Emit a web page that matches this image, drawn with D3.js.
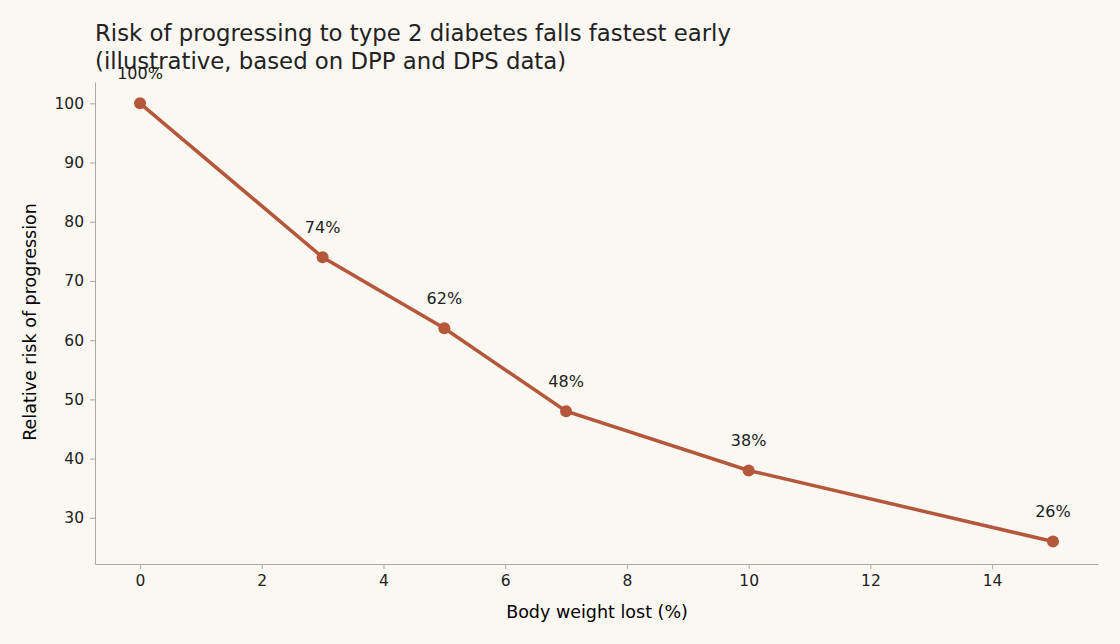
<!DOCTYPE html>
<html><head><meta charset="utf-8">
<script src="https://cdn.jsdelivr.net/npm/d3@7"></script>
<style>body{margin:0;background:#fbf7f2;font-family:"DejaVu Sans",sans-serif}</style>
</head><body>
<svg id="c" width="1120" height="644"></svg>
<script>
const weightLost = [0, 3, 5, 7, 10, 15];
const relativeRisk = [100, 74, 62, 48, 38, 26];
const xTicks = [0, 2, 4, 6, 8, 10, 12, 14];
const yTicks = [30, 40, 50, 60, 70, 80, 90, 100];
const svg = d3.select("#c");
svg.append("rect").attr("width",1120).attr("height",644).attr("fill","#fbf7f2");
const x = d3.scaleLinear().domain([-0.74, 15.74]).range([95, 1098]);
const y = d3.scaleLinear().domain([22.2, 103.6]).range([564, 82]);
const col = "#222";
const gx = svg.append("g").attr("transform","translate(0,564)").call(d3.axisBottom(x).tickValues(xTicks).tickSize(5).tickSizeOuter(0).tickPadding(6));
const gy = svg.append("g").attr("transform","translate(95,0)").call(d3.axisLeft(y).tickValues(yTicks).tickSize(5).tickSizeOuter(0).tickPadding(6));
[gx,gy].forEach(g=>{g.selectAll("path,line").attr("stroke","#aaa");g.selectAll("text").attr("fill",col).style("font-size","15.5px").style("font-family","DejaVu Sans");});
const data = weightLost.map((w,i)=>({w,r:relativeRisk[i]}));
svg.append("path").datum(data).attr("fill","none").attr("stroke","#b5573a").attr("stroke-width",3.5)
  .attr("d", d3.line().x(d=>x(d.w)).y(d=>y(d.r)));
svg.selectAll("circle").data(data).join("circle").attr("cx",d=>x(d.w)).attr("cy",d=>y(d.r)).attr("r",6).attr("fill","#b5573a");
svg.selectAll(".lbl").data(data).join("text").attr("x",d=>x(d.w)).attr("y",d=>y(d.r)-24)
  .attr("text-anchor","middle").attr("fill",col).style("font-size","16px").text(d=>d.r+"%");
svg.append("text").attr("x",597).attr("y",618).attr("text-anchor","middle").attr("fill","#000").style("font-size","17.5px").text("Body weight lost (%)");
svg.append("text").attr("transform","translate(36,322) rotate(-90)").attr("text-anchor","middle").attr("fill","#000").style("font-size","17.5px").text("Relative risk of progression");
svg.append("text").attr("x",95).attr("y",41).attr("fill",col).style("font-size","22.8px").text("Risk of progressing to type 2 diabetes falls fastest early");
svg.append("text").attr("x",95).attr("y",69).attr("fill",col).style("font-size","22.8px").text("(illustrative, based on DPP and DPS data)");
</script>
</body></html>
